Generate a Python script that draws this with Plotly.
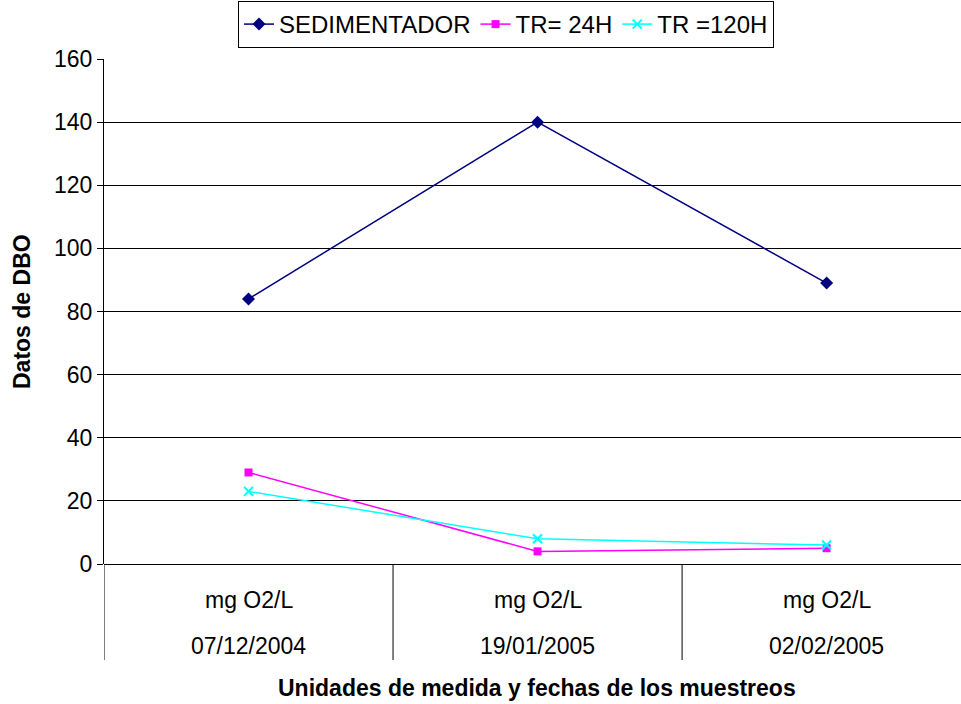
import plotly.graph_objects as go

categories = ["07/12/2004", "19/01/2005", "02/02/2005"]
unit_label = "mg O2/L"
sedimentador = [84, 140, 89]
tr_24h = [29, 4, 5]
tr_120h = [23, 8, 6]
y_ticks = [0, 20, 40, 60, 80, 100, 120, 140, 160]

FONT = "Liberation Sans, Arial, sans-serif"
FS = 23
xs = list(range(len(categories)))

# plot area in pixels
L, R, T, B = 104, 961, 59, 564
PW, PH = R - L, B - T


def px_x(p):
    return (p - L) / PW


def px_y(p):
    return (B - p) / PH


fig = go.Figure()
fig.add_trace(go.Scatter(x=xs, y=sedimentador, name="SEDIMENTADOR", mode="lines+markers",
                         line=dict(color="#000080", width=1.5),
                         marker=dict(symbol="diamond", size=10, color="#000080")))
fig.add_trace(go.Scatter(x=xs, y=tr_24h, name="TR= 24H", mode="lines+markers",
                         line=dict(color="#FF00FF", width=1.5),
                         marker=dict(symbol="square", size=8, color="#FF00FF")))
fig.add_trace(go.Scatter(x=xs, y=tr_120h, name="TR =120H", mode="lines+markers",
                         line=dict(color="#00FFFF", width=1.5),
                         marker=dict(symbol="x-thin", size=9, color="#00FFFF",
                                     line=dict(color="#00FFFF", width=2))))

shapes = []
for xv in [-0.5, 0.5, 1.5]:
    shapes.append(dict(type="line", xref="x", yref="paper", x0=xv, x1=xv, y0=0, y1=px_y(660),
                       line=dict(color="black", width=1)))

annotations = []
for i, c in enumerate(categories):
    annotations.append(dict(x=i, y=px_y(600), xref="x", yref="paper", text=unit_label,
                            showarrow=False, font=dict(family=FONT, size=FS, color="black"),
                            xanchor="center", yanchor="middle"))
    annotations.append(dict(x=i, y=px_y(646), xref="x", yref="paper", text=c,
                            showarrow=False, font=dict(family=FONT, size=FS, color="black"),
                            xanchor="center", yanchor="middle"))
annotations.append(dict(x=px_x(537), y=px_y(688), xref="paper", yref="paper",
                        text="<b>Unidades de medida y fechas de los muestreos</b>", showarrow=False,
                        font=dict(family=FONT, size=FS, color="black"), xanchor="center", yanchor="middle"))
annotations.append(dict(x=px_x(22), y=px_y(312), xref="paper", yref="paper",
                        text="<b>Datos de DBO</b>", showarrow=False, textangle=-90,
                        font=dict(family=FONT, size=FS, color="black"), xanchor="center", yanchor="middle"))

fig.update_layout(
    width=961, height=704,
    margin=dict(l=L, r=961 - R, t=T, b=704 - B, autoexpand=False),
    paper_bgcolor="white", plot_bgcolor="white",
    font=dict(family=FONT, color="black", size=FS),
    showlegend=True,
    legend=dict(orientation="h", xref="container", yref="container",
                x=506 / 961, y=1 - 1 / 704, xanchor="center", yanchor="top",
                bordercolor="black", borderwidth=1, bgcolor="white",
                font=dict(family=FONT, size=24, color="black"),
                itemwidth=30),
    xaxis=dict(range=[-0.5, 2.465], showgrid=False, showticklabels=False, zeroline=False,
               showline=False, fixedrange=True),
    yaxis=dict(range=[0, 160], tickvals=y_ticks, showgrid=True, gridcolor="black", gridwidth=1,
               zeroline=True, zerolinecolor="black", zerolinewidth=1,
               showline=True, linecolor="black", linewidth=1,
               ticks="outside", ticklen=6, tickcolor="black",
               tickfont=dict(family=FONT, size=FS, color="black")),
    shapes=shapes,
    annotations=annotations,
)

fig.write_html("out.html")
